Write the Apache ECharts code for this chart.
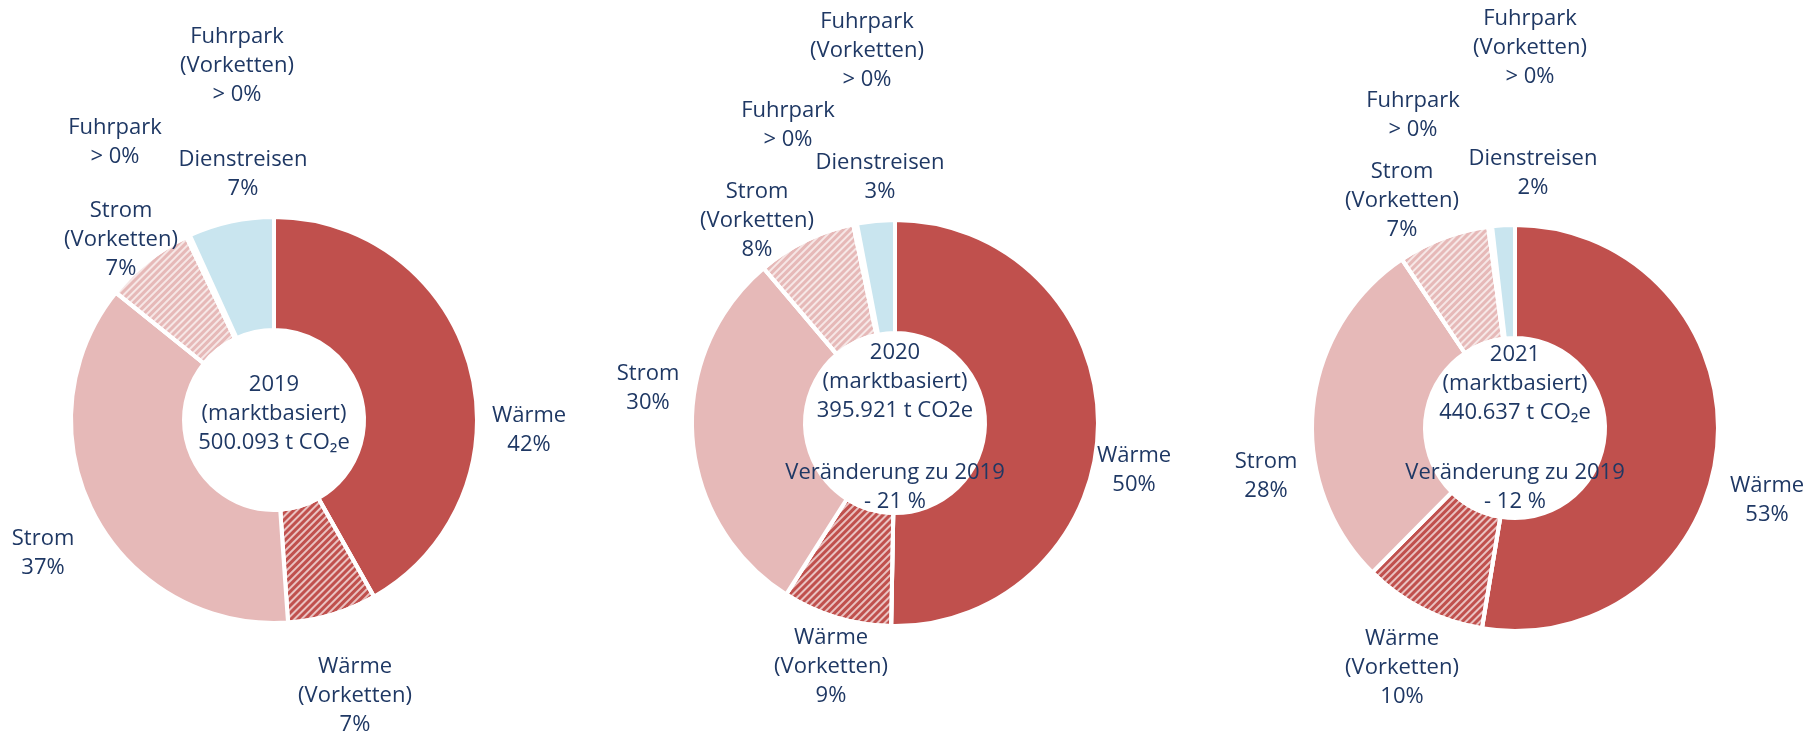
<!DOCTYPE html>
<html>
<head>
<meta charset="utf-8">
<script src="https://cdn.jsdelivr.net/npm/echarts@6/dist/echarts.min.js"></script>
<style>
  html, body { margin: 0; padding: 0; background: #ffffff; }
  #chart { width: 1818px; height: 737px; }
</style>
</head>
<body>
<div id="chart"></div>
<script>
// ---- data ----
const categories = ['Wärme', 'Wärme (Vorketten)', 'Strom', 'Strom (Vorketten)', 'Fuhrpark', 'Fuhrpark (Vorketten)', 'Dienstreisen'];
const values2019 = [41.8, 7.1, 36.9, 7.1, 0.2, 0.1, 6.8];
const values2020 = [50.3, 8.7, 29.8, 7.9, 0.2, 0.1, 3.0];
const values2021 = [52.6, 9.8, 28.2, 7.3, 0.2, 0.1, 1.8];
const years = ['2019', '2020', '2021'];
const totals = ['500.093 t CO\u2082e', '395.921 t CO2e', '440.637 t CO\u2082e'];
const changes = [null, '- 21 %', '- 12 %'];

// ---- layout / style ----
const TEXT = '#1F3864';
const FONT = '"Open Sans", "Noto Sans", sans-serif';
const FS = 22;
const LH = 29;
const centers = [[274, 420], [895, 423], [1515, 428]];
const radius = [90, 203];
const sliceColors = ['#C0504D', '#C0504D', '#E6B9B8', '#E6B9B8', '#A6A6A6', '#D9D9D9', '#C9E5EF'];
const hatched = [false, true, false, true, false, false, false];
// label offsets from pie centre (px)
const labelOffsets = [
  [[255, 10], [81, 276], [-231, 133], [-153, -180], [-159, -278], [-37, -354], [-31, -246]],
  [[239, 47], [-64, 244], [-247, -35], [-138, -202], [-107, -298], [-28, -372], [-15, -246]],
  [[252, 72], [-113, 240], [-249, 48], [-113, -227], [-102, -313], [15, -380], [18, -255]]
];
const centerTextY = [[414, null], [382, 487], [384, 487]];

const seriesValues = [values2019, values2020, values2021];

function pctLabel(v) {
  return v < 0.5 ? '> 0%' : Math.round(v) + '%';
}

const series = seriesValues.map((vals, si) => ({
  type: 'pie',
  center: centers[si],
  radius: radius,
  startAngle: 90,
  clockwise: true,
  avoidLabelOverlap: false,
  animation: false,
  z: 2,
  itemStyle: { borderColor: '#ffffff', borderWidth: 4 },
  label: {
    show: true,
    position: 'outside',
    color: TEXT,
    fontFamily: FONT,
    fontSize: FS,
    lineHeight: LH,
    align: 'center',
    formatter: (p) => p.name.replace(' (', '\n(') + '\n' + pctLabel(p.value)
  },
  labelLine: { show: false },
  labelLayout: (params) => {
    const off = labelOffsets[params.seriesIndex][params.dataIndex];
    const c = centers[params.seriesIndex];
    return { x: c[0] + off[0], y: c[1] + off[1], align: 'center', verticalAlign: 'middle' };
  },
  emphasis: { disabled: true },
  data: categories.map((name, i) => {
    const item = { name: name, value: vals[i], itemStyle: { color: sliceColors[i] } };
    if (hatched[i]) {
      item.itemStyle.decal = {
        symbol: 'rect',
        symbolSize: 1,
        color: 'rgba(255,255,255,0.65)',
        dashArrayX: [1, 0],
        dashArrayY: [2, 3],
        rotation: -Math.PI / 4
      };
    }
    return item;
  })
}));

const graphic = [];
centers.forEach((c, i) => {
  graphic.push({
    type: 'text',
    x: c[0],
    y: centerTextY[i][0],
    z: 100,
    silent: true,
    style: {
      text: years[i] + '\n(marktbasiert)\n' + totals[i],
      fill: TEXT,
      font: FS + 'px ' + FONT,
      lineHeight: LH,
      align: 'center',
      verticalAlign: 'middle'
    }
  });
  if (changes[i]) {
    graphic.push({
      type: 'text',
      x: c[0],
      y: centerTextY[i][1],
      z: 100,
      silent: true,
      style: {
        text: 'Veränderung zu 2019\n' + changes[i],
        fill: TEXT,
        font: FS + 'px ' + FONT,
        lineHeight: LH,
        align: 'center',
        verticalAlign: 'middle'
      }
    });
  }
});

const chart = echarts.init(document.getElementById('chart'), null, { renderer: 'canvas' });
chart.setOption({
  backgroundColor: '#ffffff',
  animation: false,
  series: series,
  graphic: graphic
});
</script>
</body>
</html>
